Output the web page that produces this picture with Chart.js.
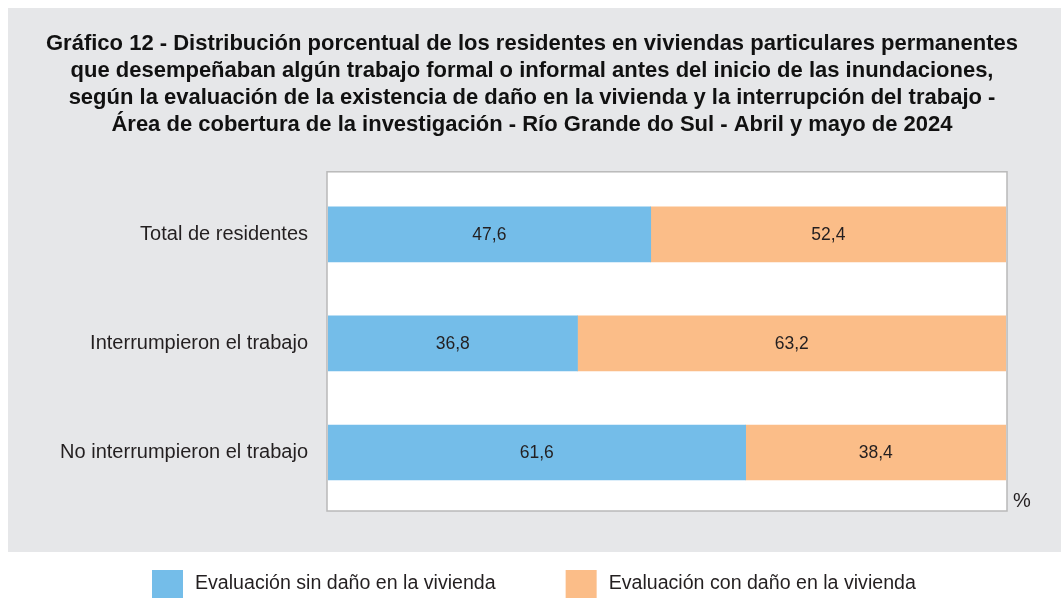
<!DOCTYPE html>
<html>
<head>
<meta charset="utf-8">
<script src="https://cdn.jsdelivr.net/npm/chart.js@4.4.0/dist/chart.umd.min.js"></script>
<style>
html, body { margin: 0; padding: 0; background: #ffffff; }
#wrap { width: 1061px; height: 598px; position: relative; }
</style>
</head>
<body>
<div id="wrap"><canvas id="c" width="1061" height="598"></canvas></div>
<script>
// ---- Data ----
const titleLines = [
  'Gráfico 12 - Distribución porcentual de los residentes en viviendas particulares permanentes',
  'que desempeñaban algún trabajo formal o informal antes del inicio de las inundaciones,',
  'según la evaluación de la existencia de daño en la vivienda y la interrupción del trabajo -',
  'Área de cobertura de la investigación - Río Grande do Sul - Abril y mayo de 2024'
];
const categories = ['Total de residentes', 'Interrumpieron el trabajo', 'No interrumpieron el trabajo'];
const sinDano = [47.6, 36.8, 61.6];
const conDano = [52.4, 63.2, 38.4];
const seriesNames = ['Evaluación sin daño en la vivienda', 'Evaluación con daño en la vivienda'];
const seriesColors = ['#74bde9', '#fbbd88'];
const unitLabel = '%';

// ---- Styles ----
const TEXT_FONT = 'Liberation Sans';
const TEXT_SIZE = 20;
const LEGEND_SIZE = 19.6;
const TEXT_COLOR = '#231f20';
const PANEL_COLOR = '#e6e7e9';

Chart.defaults.font.family = TEXT_FONT;
Chart.defaults.color = TEXT_COLOR;

const fmt = v => v.toFixed(1).replace('.', ',');

const decorPlugin = {
  id: 'decor',
  beforeDraw(chart) {
    const ctx = chart.ctx;
    const a = chart.chartArea;
    ctx.save();
    ctx.fillStyle = '#ffffff';
    ctx.fillRect(0, 0, chart.width, chart.height);
    ctx.fillStyle = PANEL_COLOR;
    ctx.fillRect(8, 8, chart.width - 8, 544);
    // plot box
    const l = a.left - 1, r = a.right + 1, t = a.top - 8, b = a.bottom + 4;
    ctx.fillStyle = '#ffffff';
    ctx.fillRect(l, t, r - l, b - t);
    ctx.strokeStyle = '#b9b9b9';
    ctx.lineWidth = 1.5;
    ctx.strokeRect(l, t, r - l, b - t);
    ctx.restore();
  },
  afterDatasetsDraw(chart) {
    const ctx = chart.ctx;
    ctx.save();
    ctx.font = '17.5px "' + TEXT_FONT + '"';
    ctx.fillStyle = TEXT_COLOR;
    ctx.textAlign = 'center';
    ctx.textBaseline = 'middle';
    chart.data.datasets.forEach((ds, di) => {
      const meta = chart.getDatasetMeta(di);
      meta.data.forEach((bar, i) => {
        const cx = (bar.x + bar.base) / 2;
        ctx.fillText(fmt(ds.data[i]), cx, bar.y + 1);
      });
    });
    ctx.restore();
  },
  afterDraw(chart) {
    const ctx = chart.ctx;
    const a = chart.chartArea;
    ctx.save();
    ctx.font = TEXT_SIZE + 'px "' + TEXT_FONT + '"';
    ctx.fillStyle = TEXT_COLOR;
    ctx.textBaseline = 'middle';
    ctx.textAlign = 'left';
    // unit label
    ctx.fillText(unitLabel, a.right + 7, a.bottom - 6);
    // legend
    ctx.font = LEGEND_SIZE + 'px "' + TEXT_FONT + '"';
    let x = 152;
    const boxW = 31, boxH = 28, boxY = 570, gapText = 12, gapItem = 70;
    chart.data.datasets.forEach((ds) => {
      ctx.fillStyle = ds.backgroundColor;
      ctx.fillRect(x, boxY, boxW, boxH);
      ctx.fillStyle = TEXT_COLOR;
      ctx.fillText(ds.label, x + boxW + gapText, boxY + 14);
      x += boxW + gapText + ctx.measureText(ds.label).width + gapItem;
    });
    ctx.restore();
  }
};

new Chart(document.getElementById('c'), {
  type: 'bar',
  data: {
    labels: categories,
    datasets: [
      { label: seriesNames[0], data: sinDano, backgroundColor: seriesColors[0], borderWidth: 0, barThickness: 55 },
      { label: seriesNames[1], data: conDano, backgroundColor: seriesColors[1], borderWidth: 0, barThickness: 55 }
    ]
  },
  options: {
    indexAxis: 'y',
    responsive: false,
    animation: false,
    devicePixelRatio: 1,
    layout: { padding: { left: 8, right: 5, top: 0, bottom: 91 } },
    plugins: {
      legend: { display: false },
      tooltip: { enabled: false },
      title: {
        display: true,
        text: titleLines,
        color: '#111111',
        font: { family: 'Liberation Sans', weight: 'bold', size: 22, lineHeight: 1.2136 },
        padding: { top: 31, bottom: 42 }
      }
    },
    scales: {
      x: { stacked: true, min: 0, max: 100, display: false },
      y: {
        stacked: true,
        grid: { display: false },
        border: { display: false },
        ticks: { padding: 12, color: TEXT_COLOR, font: { family: TEXT_FONT, size: TEXT_SIZE } },
        afterFit(scale) { scale.width = 320; }
      },
      yRight: {
        type: 'category',
        position: 'right',
        grid: { display: false, drawTicks: false },
        border: { display: false },
        ticks: { display: false },
        afterFit(scale) { scale.width = 50; }
      }
    }
  },
  plugins: [decorPlugin]
});
</script>
</body>
</html>
